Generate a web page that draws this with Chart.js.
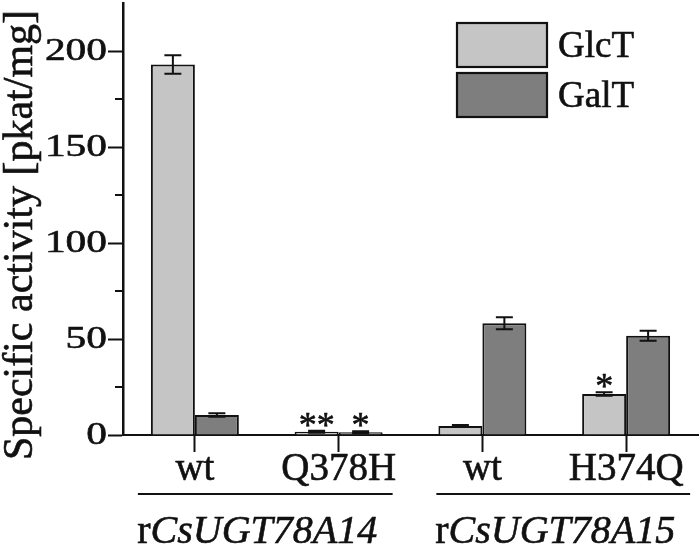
<!DOCTYPE html>
<html>
<head>
<meta charset="utf-8">
<script src="https://cdn.jsdelivr.net/npm/chart.js@4.4.1/dist/chart.umd.min.js"></script>
<style>
html,body{margin:0;padding:0;background:#fff;}
#wrap{width:700px;height:547px;}
</style>
</head>
<body>
<div id="wrap"><canvas id="c" width="700" height="547"></canvas></div>
<script>
// ---- data ----
const categories = ['wt', 'Q378H', 'wt', 'H374Q'];
const seriesNames = ['GlcT', 'GalT'];
const glcT = [193, 1.7, 4.7, 21.4];
const galT = [10.4, 1.4, 58.2, 51.7];
const glcTErr = [4.8, 0.5, 0.5, 0.9];
const galTErr = [0.9, 0.5, 3.1, 2.6];
const glcTSig = ['', '**', '', '*'];
const galTSig = ['', '*', '', ''];
const yTicks = [0, 50, 100, 150, 200];
const yMinorTicks = [25, 75, 125, 175];
const yTitle = 'Specific activity [pkat/mg]';
const groupPrefix = ['r', 'r'];
const groupNames = ['CsUGT78A14', 'CsUGT78A15'];
const groupMembers = [[0, 1], [2, 3]];

const FONT = '"Liberation Serif", "Times New Roman", serif';
const INK = '#111';
const colors = ['#c5c5c5', '#7e7e7e'];
const errs = [glcTErr, galTErr];
const sigs = [glcTSig, galTSig];

function inkText(ctx, t, x, y) {
  ctx.fillText(t, x, y);
  ctx.strokeText(t, x, y);
}

const decor = {
  id: 'decor',
  afterDatasetsDraw(chart) {
    const ctx = chart.ctx;
    const y = chart.scales.y;
    ctx.save();
    ctx.strokeStyle = INK;
    chart.data.datasets.forEach((ds, di) => {
      const meta = chart.getDatasetMeta(di);
      meta.data.forEach((bar, i) => {
        const v = ds.data[i], e = errs[di][i];
        const yt = y.getPixelForValue(v + e), yb = y.getPixelForValue(v - e);
        ctx.lineWidth = 2;
        ctx.beginPath();
        ctx.moveTo(bar.x, yt); ctx.lineTo(bar.x, yb);
        ctx.moveTo(bar.x - 8.5, yt); ctx.lineTo(bar.x + 8.5, yt);
        ctx.moveTo(bar.x - 8.5, yb); ctx.lineTo(bar.x + 8.5, yb);
        ctx.stroke();
        const s = sigs[di][i];
        if (s) {
          ctx.fillStyle = INK;
          ctx.lineWidth = 0.6;
          ctx.font = '36px ' + FONT;
          ctx.textAlign = 'center';
          ctx.textBaseline = 'alphabetic';
          inkText(ctx, s, bar.x, yt + 6);
        }
      });
    });
    ctx.restore();
  },
  afterDraw(chart) {
    const ctx = chart.ctx;
    const x = chart.scales.x, y = chart.scales.y;
    const left = chart.chartArea.left;
    ctx.save();
    ctx.strokeStyle = INK;
    ctx.fillStyle = INK;
    // minor y ticks
    ctx.lineWidth = 2;
    yMinorTicks.forEach(v => {
      const py = Math.round(y.getPixelForValue(v));
      ctx.beginPath(); ctx.moveTo(left - 8, py); ctx.lineTo(left, py); ctx.stroke();
    });
    // y tick labels (horizontally stretched serif)
    ctx.font = '31px ' + FONT;
    ctx.textAlign = 'right';
    ctx.textBaseline = 'alphabetic';
    ctx.lineWidth = 0.6;
    const sx = 20.7 / ctx.measureText('0').width;
    yTicks.forEach(v => {
      const py = y.getPixelForValue(v);
      ctx.save();
      ctx.translate(left - 16, py + 9);
      ctx.scale(sx, 1);
      inkText(ctx, String(v), 0, 0);
      ctx.restore();
    });
    // y title
    ctx.save();
    ctx.translate(32, 235);
    ctx.rotate(-Math.PI / 2);
    ctx.font = '42px ' + FONT;
    ctx.textAlign = 'center';
    ctx.lineWidth = 0.6;
    inkText(ctx, yTitle, 0, 0);
    ctx.restore();
    // group lines and labels
    const ext = [[-57, 54], [-46, 64]];
    groupMembers.forEach((m, gi) => {
      const x1 = x.getPixelForValue(m[0]) + ext[gi][0];
      const x2 = x.getPixelForValue(m[1]) + ext[gi][1];
      ctx.lineWidth = 2;
      ctx.beginPath(); ctx.moveTo(x1, 494); ctx.lineTo(x2, 494); ctx.stroke();
      const fN = '40px ' + FONT, fI = 'italic 40px ' + FONT;
      ctx.font = fN; const w1 = ctx.measureText(groupPrefix[gi]).width;
      ctx.font = fI; const w2 = ctx.measureText(groupNames[gi]).width;
      const cx = (x1 + x2) / 2 - 8;
      const tx = cx - (w1 + w2) / 2;
      ctx.textAlign = 'left';
      ctx.lineWidth = 0.6;
      ctx.font = fN; inkText(ctx, groupPrefix[gi], tx, 543);
      ctx.font = fI; inkText(ctx, groupNames[gi], tx + w1, 543);
    });
    // legend
    chart.data.datasets.forEach((ds, di) => {
      const by = 23 + di * 50;
      ctx.fillStyle = ds.backgroundColor;
      ctx.fillRect(457, by, 90, 44);
      ctx.lineWidth = 2.2;
      ctx.strokeStyle = INK;
      ctx.strokeRect(457, by, 90, 44);
      ctx.fillStyle = INK;
      ctx.font = '37px ' + FONT;
      ctx.textAlign = 'left';
      ctx.lineWidth = 0.6;
      inkText(ctx, ds.label, 558, by + 34);
    });
    ctx.restore();
  }
};

new Chart(document.getElementById('c'), {
  type: 'bar',
  data: {
    labels: categories,
    datasets: [
      { label: seriesNames[0], data: glcT, backgroundColor: colors[0], borderColor: INK, borderWidth: 2 },
      { label: seriesNames[1], data: galT, backgroundColor: colors[1], borderColor: INK, borderWidth: 2 }
    ]
  },
  options: {
    responsive: false,
    animation: false,
    devicePixelRatio: 1,
    layout: { padding: { top: 3, right: 2, left: 0, bottom: 0 } },
    datasets: { bar: { categoryPercentage: 0.612, barPercentage: 1.0 } },
    plugins: { legend: { display: false }, tooltip: { enabled: false } },
    scales: {
      x: {
        offset: true,
        grid: { offset: false, drawOnChartArea: false, drawTicks: true, tickLength: 17, tickWidth: 2, tickColor: INK },
        border: { display: true, color: INK, width: 2 },
        ticks: { color: INK, textStrokeColor: INK, textStrokeWidth: 0.6, font: { family: FONT, size: 39, lineHeight: 1 }, padding: -2, maxRotation: 0, autoSkip: false },
        afterFit(s) { s.height = 112; }
      },
      y: {
        min: 0, max: 225,
        afterBuildTicks(axis) { axis.ticks = yTicks.map(v => ({ value: v })); },
        grid: { drawOnChartArea: false, drawTicks: true, tickLength: 15, tickWidth: 2, tickColor: INK },
        border: { display: true, color: INK, width: 2.5 },
        ticks: { display: false },
        afterFit(s) { s.width = 123; }
      }
    }
  },
  plugins: [decor]
});
</script>
</body>
</html>
